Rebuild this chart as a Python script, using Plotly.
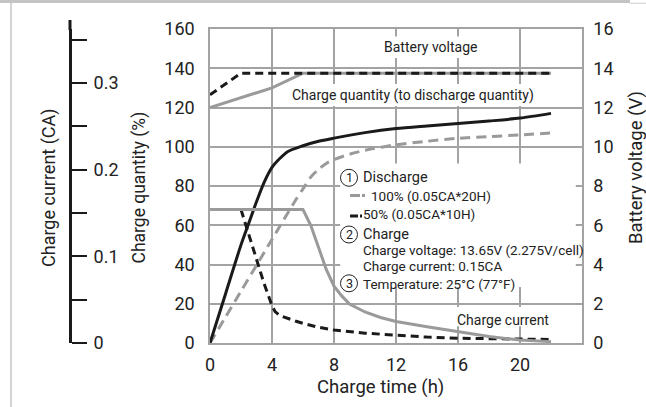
import plotly.graph_objects as go

W, H = 646, 407

# ---------------- data ----------------
# Charge quantity (%) vs charge time (h)
hours_q50 = [0, 1, 2, 2.5, 3, 3.5, 4, 4.5, 5, 6, 7, 8, 10, 12, 14, 16, 18, 20, 22]
qty_50 = [0, 25, 50, 61, 72, 82, 89.5, 94, 97.5, 100.5, 102.8, 104.4, 107.2, 109.3, 110.6, 111.8, 113.1, 114.6, 117]

hours_q100 = [0, 1, 2, 3, 4, 5, 5.5, 6, 6.5, 7, 7.5, 8, 9, 10, 12, 14, 16, 18, 20, 22]
qty_100 = [0, 13.2, 26.4, 39.6, 52.8, 66, 72.5, 78.5, 84.5, 88.5, 91.5, 93.5, 96.2, 98.2, 101, 102.8, 104.3, 105.2, 106, 107]

# Charge current (plotted on the left % scale)
hours_c100 = [0, 6, 6.5, 7, 7.5, 8, 8.5, 9, 10, 11, 12, 14, 16, 18, 20, 22]
cur_100 = [68, 68, 60, 48.5, 37.5, 29, 24, 19.8, 15.8, 13, 11, 8.3, 5.8, 3.3, 1.5, 0.7]

hours_c50 = [2, 2.5, 3, 3.5, 4, 4.2, 4.5, 5, 5.5, 6, 7, 8, 9, 10, 12, 14, 16, 18, 20, 22]
cur_50 = [68, 55.5, 42, 30, 19, 16, 14, 12.5, 11.2, 10, 8, 6.6, 5.7, 5, 4, 3, 2.4, 2.1, 2, 1.8]

# Battery voltage (V)
hours_v50 = [0, 2, 22]
volt_50 = [12.65, 13.75, 13.75]
hours_v100 = [0, 4, 6, 22]
volt_100 = [12.0, 13.0, 13.75, 13.75]

# Axis ticks
x_ticks = [0, 4, 8, 12, 16, 20]
ca_ticks = [0, 0.05, 0.1, 0.15, 0.2, 0.25, 0.3, 0.35]
ca_labels = ["0", "", "0.1", "", "0.2", "", "0.3", ""]

# ---------------- styling ----------------
GRAY = "#9a9a9a"
GRID = "#a3a3a3"
BLACK = "#1a1a1a"
TXT = "#222222"
FONT = "Roboto, sans-serif"


def px(x):
    return x / W


def py(y):
    return 1 - y / H


fig = go.Figure()

# voltage curves (right axis)
fig.add_trace(go.Scatter(x=hours_v100, y=volt_100, yaxis="y2", mode="lines",
                         line=dict(color=GRAY, width=3)))
fig.add_trace(go.Scatter(x=hours_v50, y=volt_50, yaxis="y2", mode="lines",
                         line=dict(color=BLACK, width=3, dash="8px,5px")))
# charge quantity
fig.add_trace(go.Scatter(x=hours_q100, y=qty_100, mode="lines",
                         line=dict(color=GRAY, width=3, dash="10px,6px", shape="spline", smoothing=0.8)))
fig.add_trace(go.Scatter(x=hours_q50, y=qty_50, mode="lines",
                         line=dict(color=BLACK, width=3, shape="spline", smoothing=0.8)))
# charge current
fig.add_trace(go.Scatter(x=hours_c50, y=cur_50, mode="lines",
                         line=dict(color=BLACK, width=3, dash="8px,5px")))
fig.add_trace(go.Scatter(x=hours_c100, y=cur_100, mode="lines",
                         line=dict(color=GRAY, width=3)))
# invisible trace to carry the charge-current (CA) axis
fig.add_trace(go.Scatter(x=[0], y=[0], yaxis="y3", mode="markers",
                         marker=dict(opacity=0), hoverinfo="skip"))

fig.update_layout(
    width=W, height=H,
    margin=dict(l=0, r=0, t=0, b=0, autoexpand=False),
    paper_bgcolor="white",
    plot_bgcolor="white",
    showlegend=False,
    font=dict(family=FONT, color=TXT, size=18),
    xaxis=dict(domain=[px(210), px(582)], range=[0, 24], tickvals=x_ticks,
               showgrid=True, gridcolor=GRID, gridwidth=1.5,
               showline=True, linecolor=GRID, linewidth=1.5, mirror=True,
               zeroline=False, ticks="", ticklabelstandoff=5, automargin=False,
               tickfont=dict(size=18)),
    yaxis=dict(domain=[py(343), py(29)], range=[0, 160], dtick=20,
               showgrid=True, gridcolor=GRID, gridwidth=1.5,
               showline=True, linecolor=GRID, linewidth=1.5, mirror=True,
               zeroline=False, ticks="", ticklabelstandoff=10, automargin=False,
               tickfont=dict(size=18)),
    yaxis2=dict(overlaying="y", side="right", range=[0, 16], dtick=2,
                showgrid=False, zeroline=False, ticks="inside", ticklen=4,
                tickcolor=GRID, tickwidth=1.5, showline=True, linecolor=GRID,
                linewidth=1.5, ticklabelstandoff=6, automargin=False,
                tickfont=dict(size=18)),
    yaxis3=dict(overlaying="y", anchor="free", position=px(70),
                side="right", range=[0, 0.3622], tickvals=ca_ticks,
                ticktext=ca_labels, ticks="outside", ticklen=15, tickwidth=1.5,
                tickcolor=BLACK, showline=True, linecolor=BLACK, linewidth=3,
                showgrid=False, zeroline=False, ticklabelstandoff=3,
                automargin=False, tickfont=dict(size=18)),
)

shapes = []
# white boxes hiding gridlines behind the labels
for (x0, x1, y0, y1) in [(8.4, 23.6, 28.5, 91.5),
                         (10.84, 17.55, 145.2, 156.2),
                         (4.97, 21.3, 120.8, 132),
                         (15.5, 22.3, 8.5, 18.3)]:
    shapes.append(dict(type="rect", xref="x", yref="y", x0=x0, x1=x1, y0=y0, y1=y1,
                       fillcolor="white", line=dict(width=0), layer="above"))
# top extension of the CA axis line
shapes.append(dict(type="line", xref="paper", yref="paper", x0=px(70), x1=px(70),
                   y0=py(30), y1=py(20), line=dict(color=BLACK, width=3)))
# outer frame decorations
shapes.append(dict(type="rect", xref="paper", yref="paper", x0=0, x1=px(630),
                   y0=py(3), y1=py(0), fillcolor="#c4c4c4", line=dict(width=0)))
shapes.append(dict(type="line", xref="paper", yref="paper", x0=px(630), x1=1,
                   y0=py(3.3), y1=py(3.3), line=dict(color="#cccccc", width=1)))
shapes.append(dict(type="line", xref="paper", yref="paper", x0=px(11), x1=px(11),
                   y0=py(3), y1=0, line=dict(color="#c4c4c4", width=1.5)))
# legend line samples
shapes.append(dict(type="line", xref="paper", yref="paper", x0=px(350), x1=px(365),
                   y0=py(195.5), y1=py(195.5), line=dict(color=GRAY, width=3, dash="10px,2px")))
shapes.append(dict(type="line", xref="paper", yref="paper", x0=px(350), x1=px(362),
                   y0=py(216), y1=py(216), line=dict(color=BLACK, width=3, dash="8px,2px")))
# circled numbers
for cy in [177.8, 234.5, 283.3]:
    shapes.append(dict(type="circle", xref="paper", yref="paper",
                       x0=px(340.5), x1=px(357.5), y0=py(cy + 8.5), y1=py(cy - 8.5),
                       line=dict(color=TXT, width=1)))
fig.update_layout(shapes=shapes)

ann = []


def text(s, x, y, size=14, xanchor="center", angle=0):
    ann.append(dict(text=s, xref="paper", yref="paper", x=px(x), y=py(y),
                    xanchor=xanchor, yanchor="middle", showarrow=False,
                    textangle=angle, font=dict(size=size, color=TXT, family=FONT)))


# axis titles
text("Charge current (CA)", 49, 188, size=18, angle=-90)
text("Charge quantity (%)", 139, 187.5, size=17.5, angle=-90)
text("Battery voltage (V)", 636, 168, size=18.5, angle=-90)
text("Charge time (h)", 380, 387, size=18.5)

# in-plot labels
text("Battery voltage", 430, 47, size=14)
text("Charge quantity (to discharge quantity)", 413, 96, size=14)
text("Charge current", 503, 320, size=14)

# legend block
for i, cy in zip(["1", "2", "3"], [177.8, 234.5, 283.3]):
    text(i, 349, cy, size=12.5)
LS = 13.5
text("Discharge", 361, 177, size=14.5, xanchor="left")
text("100% (0.05CA*20H)", 369, 196, size=LS, xanchor="left")
text("50% (0.05CA*10H)", 361, 214, size=LS, xanchor="left")
text("Charge", 361, 234, size=14.5, xanchor="left")
text("Charge voltage: 13.65V (2.275V/cell)", 361, 250, size=LS, xanchor="left")
text("Charge current: 0.15CA", 361, 266, size=LS, xanchor="left")
text("Temperature: 25°C (77°F)", 361, 283.5, size=LS, xanchor="left")

fig.update_layout(annotations=ann)

fig.write_html("out.html", config={"displayModeBar": False},
               post_script="document.body.style.margin='0px';")
